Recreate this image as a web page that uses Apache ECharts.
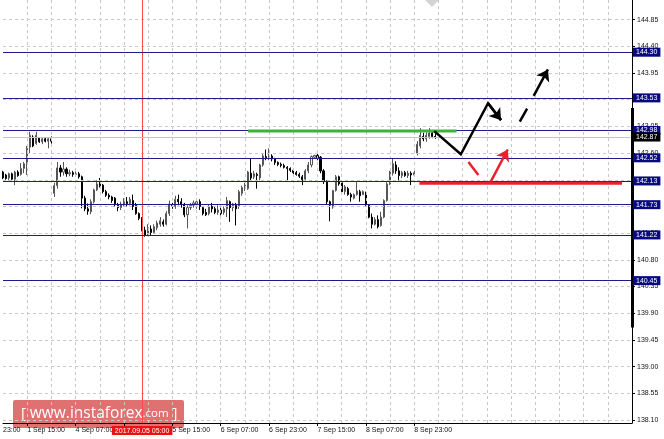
<!DOCTYPE html>
<html><head><meta charset="utf-8">
<script src="https://cdn.jsdelivr.net/npm/echarts@6/dist/echarts.min.js"></script>
<style>html,body{margin:0;padding:0;background:#fff}#c{width:664px;height:439px}</style>
</head><body><div id="c"></div>
<script>
// ---- data (H1 bars, index 0 = 1 Sep 15:00) ----
const firstBar = -8;
const opens = [142.28,142.23,142.18,142.25,142.16,142.28,142.24,142.34,142.42,142.70,142.87,142.76,142.85,142.79,142.84,142.80,142.84,
141.92,142.05,142.35,142.28,142.33,142.25,142.27,142.24,142.25,142.20,141.84,141.66,141.61,141.78,141.98,142.08,142.06,141.95,141.89,141.86,
141.84,141.72,141.68,141.74,141.78,141.75,141.80,141.72,141.58,141.50,141.30,141.24,141.32,141.26,141.34,141.40,141.44,141.40,141.58,
141.72,141.70,141.82,141.78,141.74,141.56,141.68,141.72,141.74,141.78,141.68,141.60,141.58,141.70,141.66,141.60,141.64,
141.60,141.66,141.78,141.68,141.72,141.70,141.92,142.00,142.00,142.26,142.20,142.24,142.18,142.40,142.54,
142.52,142.55,142.50,142.44,142.41,142.39,142.36,142.34,142.31,142.27,142.24,142.20,142.16,142.30,142.40,142.53,
142.56,142.53,142.30,142.12,141.78,141.69,141.97,142.20,142.10,141.95,142.00,141.90,141.84,141.90,141.95,141.90,
141.93,141.72,141.52,141.40,141.48,141.38,141.52,141.80,142.08,142.26,142.40,142.30,142.22,142.27,142.22,142.26,142.23,
142.60,142.72,142.88,142.84,142.88,142.94,142.88];
const closes = [142.18,142.17,142.25,142.16,142.28,142.22,142.34,142.42,142.68,142.90,142.72,142.90,142.79,142.84,142.80,142.84,142.80,
142.05,142.35,142.28,142.33,142.25,142.27,142.24,142.25,142.20,141.84,141.66,141.62,141.78,141.98,142.08,142.05,141.95,141.89,141.86,141.80,
141.74,141.68,141.74,141.78,141.75,141.82,141.70,141.58,141.50,141.30,141.22,141.34,141.26,141.36,141.42,141.46,141.40,141.58,141.74,
141.70,141.82,141.78,141.74,141.56,141.68,141.72,141.76,141.78,141.70,141.58,141.56,141.70,141.66,141.60,141.64,141.58,
141.66,141.80,141.68,141.74,141.66,141.95,142.02,142.06,142.28,142.18,142.25,142.22,142.40,142.55,142.52,
142.55,142.50,142.44,142.41,142.39,142.36,142.34,142.31,142.27,142.24,142.21,142.15,142.30,142.40,142.54,142.56,
142.52,142.30,142.12,141.78,141.72,141.97,142.20,142.08,141.95,142.03,141.90,141.86,141.90,141.96,141.88,141.95,
141.72,141.52,141.40,141.48,141.36,141.52,141.80,142.08,142.28,142.42,142.30,142.22,142.27,142.22,142.26,142.23,142.27,
142.75,142.90,142.84,142.90,142.94,142.88,142.87];
const lows = [142.16,142.15,142.14,142.14,142.06,142.20,142.22,142.26,142.23,142.60,142.70,142.74,142.77,142.75,142.78,142.68,142.76,
141.86,142.00,142.20,142.22,142.20,142.21,142.20,142.20,142.17,141.67,141.62,141.56,141.57,141.75,141.96,142.02,141.92,141.86,141.82,141.76,
141.70,141.62,141.64,141.70,141.70,141.72,141.64,141.56,141.47,141.28,141.19,141.20,141.21,141.24,141.30,141.36,141.36,141.38,141.54,
141.66,141.66,141.72,141.68,141.52,141.33,141.64,141.68,141.66,141.64,141.55,141.54,141.55,141.60,141.57,141.56,141.55,
141.56,141.52,141.44,141.62,141.38,141.66,141.88,141.96,141.98,142.14,142.16,142.00,142.14,142.37,142.48,
142.48,142.46,142.40,142.38,142.36,142.34,142.14,142.28,142.24,142.22,142.18,142.06,142.12,142.26,142.36,142.50,
142.48,142.26,142.08,141.74,141.45,141.66,141.95,142.05,141.92,141.90,141.88,141.78,141.82,141.88,141.78,141.89,
141.70,141.50,141.33,141.38,141.33,141.36,141.50,141.78,142.06,142.22,142.25,142.14,142.18,142.20,142.18,142.06,142.20,
142.56,142.68,142.80,142.79,142.84,142.85,142.84];
const highs = [142.30,142.25,142.27,142.27,142.30,142.31,142.43,142.45,142.72,142.96,142.90,142.96,142.87,142.86,142.86,142.86,142.88,
142.10,142.45,142.40,142.45,142.36,142.32,142.30,142.29,142.28,142.22,141.88,141.75,141.82,142.00,142.14,142.18,142.08,141.98,141.92,141.88,
141.86,141.76,141.78,141.84,141.86,141.86,141.90,141.76,141.60,141.52,141.36,141.40,141.38,141.40,141.46,141.52,141.48,141.62,141.80,
141.76,141.88,141.90,141.84,141.76,141.72,141.76,141.80,141.82,141.82,141.70,141.66,141.74,141.76,141.70,141.72,141.68,
141.70,141.86,141.80,141.76,141.76,141.98,142.05,142.10,142.30,142.51,142.30,142.27,142.42,142.60,142.66,
142.68,142.58,142.52,142.46,142.44,142.42,142.38,142.36,142.34,142.30,142.27,142.23,142.33,142.45,142.56,142.57,
142.64,142.55,142.33,142.14,141.80,141.98,142.23,142.22,142.14,142.06,142.03,141.93,141.92,142.11,141.98,141.97,
141.95,141.74,141.58,141.52,141.55,141.61,141.82,142.11,142.30,142.51,142.46,142.36,142.30,142.30,142.30,142.29,142.30,
142.80,143.02,142.94,142.95,143.02,142.98,142.93];

const priceTicks = [138.10,138.55,139.00,139.45,139.90,140.35,140.80,141.25,141.70,142.15,142.60,143.05,143.50,143.95,144.40,144.85];
const levels = [144.30,143.53,142.98,142.52,142.13,141.73,141.22,140.45];
const currentPrice = 142.87;
const timeTickBars = [0,16,32,48,64,80,96,112,128];
const timeTickLabels = ['1 Sep 15:00','4 Sep 07:00','4 Sep 23:00','5 Sep 15:00','6 Sep 07:00','6 Sep 23:00','7 Sep 15:00','8 Sep 07:00','8 Sep 23:00'];
const edgeLabelBar = -8, edgeLabel = '23:00';
const gridBars = [0,8,16,24,32,40,48,56,64,72,80,88,96,104,112,120,128,136,144,152,160,168,176,184,192];
const markerBar = 38, markerLabel = '2017.09.05 05:00';

// drawn forecast annotations (bar index, price)
const greenLevel = [[73,142.97],[142,142.97]];
const redLevel = [[129.7,142.09],[196.7,142.09]];
const blackPath = [[134.6,142.97],[143.4,142.58],[152.4,143.44],[156.7,143.155]];
const blackDash = [[162.9,143.13],[165.3,143.35]];
const blackArrow = [[167.5,143.565],[172.2,144.01]];
const redDash = [[145.9,142.45],[149.2,142.23]];
const redArrow = [[153.0,142.09],[158.9,142.66]];
const scaleBar = [[200,143.36],[200,139.66]];

const xMin = -8, xMax = 200, yMin = 138.05, yMax = 145.18;
const FONT = 'Liberation Sans';

const candles = opens.map((o,i)=>[firstBar+i, o, closes[i], lows[i], highs[i]]);
const labelMap = {};
timeTickBars.forEach((b,i)=>labelMap[b]=timeTickLabels[i]);
labelMap[edgeLabelBar] = edgeLabel;

const boxLabel = (bg) => ({show:true,position:'end',distance:1,formatter:p=>p.value.toFixed(2),color:'#fff',backgroundColor:bg,
  padding:[1,3,0,3],fontSize:7,lineHeight:8,fontFamily:FONT});

const chart = echarts.init(document.getElementById('c'), null, {renderer:'canvas'});
chart.setOption({
  animation:false,
  backgroundColor:'#ffffff',
  grid:{left:0,right:32,top:0,bottom:16,containLabel:false},
  xAxis:{type:'value',min:xMin,max:xMax,
    axisLine:{show:true,onZero:false,lineStyle:{color:'#000',width:1}},
    axisTick:{show:true,customValues:timeTickBars,length:3,lineStyle:{color:'#000'}},
    axisLabel:{show:true,customValues:[edgeLabelBar].concat(timeTickBars),formatter:v=>labelMap[v]||'',
      align:'left',margin:4,fontSize:7,fontFamily:FONT,color:'#111',hideOverlap:false},
    splitLine:{show:false}},
  yAxis:{type:'value',position:'right',min:yMin,max:yMax,scale:true,
    axisLine:{show:true,onZero:false,lineStyle:{color:'#000',width:1}},
    axisTick:{show:true,customValues:priceTicks,length:3,lineStyle:{color:'#000'}},
    axisLabel:{show:true,customValues:priceTicks,formatter:v=>v.toFixed(2),margin:5,fontSize:7,fontFamily:FONT,color:'#111'},
    splitLine:{show:false}},
  graphic:[
    {type:'polygon',silent:true,z:1,shape:{points:[[425,0],[432,7],[439,0]]},style:{fill:'#d4d4d4'}},
    {type:'group',left:13,top:400,z:100,children:[
      {type:'rect',shape:{x:0,y:0,width:171,height:28,r:2},style:{fill:'rgba(208,40,40,0.66)'}},
      {type:'text',x:8,y:14,style:{text:'{a|[ }{b|www.instaforex}{c|.com}{a| ]}',verticalAlign:'middle',
        rich:{a:{fontSize:15,fill:'#fff',fontFamily:'Open Sans'},b:{fontSize:15.5,fill:'#fff',fontFamily:'Open Sans'},c:{fontSize:11.5,fill:'#fff',fontFamily:'Open Sans'}}}}
    ]}
  ],
  series:[
    {type:'line',data:[],silent:true,z:1,
      markLine:{silent:true,symbol:['none','none'],animation:false,label:{show:false},
        lineStyle:{color:'#c8c8c8',width:1,type:[3,3]},
        data:priceTicks.map(v=>({yAxis:v})).concat(gridBars.map(v=>({xAxis:v})))}},
    {type:'line',data:[],silent:true,z:2,
      markLine:{silent:true,symbol:['none','none'],animation:false,
        lineStyle:{color:'#ff4a4a',width:1,type:'solid'},
        label:{show:true,position:'start',distance:3,formatter:()=>markerLabel,color:'#fff',backgroundColor:'#ee1111',
          padding:[1,3,0,3],fontSize:7,lineHeight:8,fontFamily:FONT},
        data:[{xAxis:markerBar}]}},
    {type:'candlestick',z:3,barWidth:1.6,data:candles,encode:{x:0,y:[1,2,3,4]},
      itemStyle:{color:'#ffffff',color0:'#000000',borderColor:'#555555',borderColor0:'#000000',borderWidth:1}},
    {type:'line',data:[],silent:true,z:5,
      markLine:{silent:true,symbol:['none','none'],animation:false,
        lineStyle:{color:'#1c1c8e',width:1,type:'solid'},
        label:boxLabel('#0a0a80'),
        data:levels.map(v=>({yAxis:v}))}},
    {type:'line',data:[],silent:true,z:6,
      markLine:{silent:true,symbol:['none','none'],animation:false,
        lineStyle:{color:'#c4c4c4',width:1,type:'solid'},
        label:boxLabel('#000'),
        data:[{yAxis:currentPrice}]}},
    {type:'line',data:[],silent:true,z:6,
      markLine:{silent:true,symbol:['none','none'],animation:false,label:{show:false},
        lineStyle:{color:'#000',width:3,type:'solid'},
        data:[[{coord:scaleBar[0]},{coord:scaleBar[1]}]]}},
    {type:'line',data:greenLevel,z:6,symbol:'none',silent:true,lineStyle:{color:'#3cb43c',width:3}},
    {type:'line',data:redLevel,z:6,symbol:'none',silent:true,lineStyle:{color:'#e8212b',width:3}},
    {type:'line',data:blackPath,z:7,symbol:'none',silent:true,lineStyle:{color:'#000',width:2.5,join:'miter'}},
    {type:'lines',coordinateSystem:'cartesian2d',z:7,silent:true,symbol:['none','arrow'],symbolSize:11,
      lineStyle:{color:'#000',width:2.5,opacity:1},
      data:[{coords:blackPath.slice(2,4)},{coords:blackArrow}]},
    {type:'lines',coordinateSystem:'cartesian2d',z:7,silent:true,symbol:['none','none'],
      lineStyle:{color:'#000',width:2.5,opacity:1},data:[{coords:blackDash}]},
    {type:'lines',coordinateSystem:'cartesian2d',z:7,silent:true,symbol:['none','arrow'],symbolSize:11,
      lineStyle:{color:'#e8212b',width:2.5,opacity:1},data:[{coords:redArrow}]},
    {type:'lines',coordinateSystem:'cartesian2d',z:7,silent:true,symbol:['none','none'],
      lineStyle:{color:'#e8212b',width:2.5,opacity:1},data:[{coords:redDash}]}
  ]
});
</script></body></html>
